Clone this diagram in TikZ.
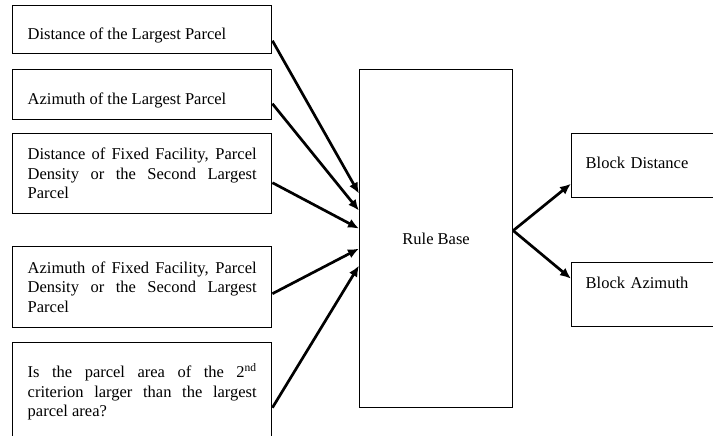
\documentclass[tikz,border=0pt]{standalone}
\usepackage{fontspec}
\setmainfont{Liberation Serif}
\usepackage{xcolor}
\usetikzlibrary{arrows.meta}
\definecolor{ink}{HTML}{000000}
\tikzset{
  box/.style={draw=ink, line width=1.4pt, rectangle, anchor=north west, inner xsep=15pt, font=\fontsize{16.5}{19.5}\selectfont},
  inbox/.style={box, minimum width=259pt, text width=229pt, align=justify},
  outbox/.style={box, inner xsep=14pt, minimum width=160pt, minimum height=64pt, text width=132pt, align=left},
  rulebox/.style={box, line width=1.2pt, minimum width=153pt, minimum height=338pt, align=center},
  flow/.style={draw=ink, line width=2.7pt, line join=round, -{Latex[length=11pt,width=9.5pt]}},
}

\begin{document}
\begin{tikzpicture}[x=1pt,y=1pt]
  \useasboundingbox (0,0) rectangle (713,-436);
  \clip (0,0) rectangle (713,-436);

  \node[inbox, minimum height=48pt, text height=23.5pt, text depth=3.5pt] (dist) at (12,-5) {Distance of the Largest Parcel};
  \node[inbox, minimum height=50pt, text height=23.5pt, text depth=3.5pt] (azim) at (12,-69) {Azimuth of the Largest Parcel};
  \node[inbox, minimum height=80pt] (fixdist) at (12,-133) {Distance of Fixed Facility, Parcel\linebreak Density or the Second Largest\linebreak Parcel};
  \node[inbox, minimum height=81pt] (fixazim) at (12,-246) {Azimuth of Fixed Facility, Parcel\linebreak Density or the Second Largest\linebreak Parcel};
  \node[inbox, minimum height=98pt] (bigger) at (12,-342) {Is the parcel area of the 2\textsuperscript{nd}\linebreak criterion larger than the largest\linebreak parcel area?};

  \node[rulebox] (rules) at (359,-69) {Rule Base};
  \node[outbox, text depth=6pt] (bdist) at (571,-133) {Block Distance};
  \node[outbox, text depth=23pt] (bazim) at (571,-262) {Block Azimuth};

  \draw[flow] ([yshift=-11pt]dist.east) -- ([yshift=45pt]rules.west);
  \draw[flow] ([yshift=-9pt]azim.east) -- ([yshift=28pt]rules.west);
  \draw[flow] ([yshift=-9pt]fixdist.east) -- ([yshift=10pt]rules.west);
  \draw[flow] ([yshift=-6.5pt]fixazim.east) -- ([yshift=-10pt]rules.west);
  \draw[flow] ([yshift=-16pt]bigger.east) -- ([yshift=-27pt]rules.west);

  \draw[flow] ([yshift=8pt]rules.east) -- ([yshift=-18pt]bdist.west); % outputs
  \draw[flow] ([yshift=8pt]rules.east) -- ([yshift=16pt]bazim.west);
\end{tikzpicture}
\end{document}
